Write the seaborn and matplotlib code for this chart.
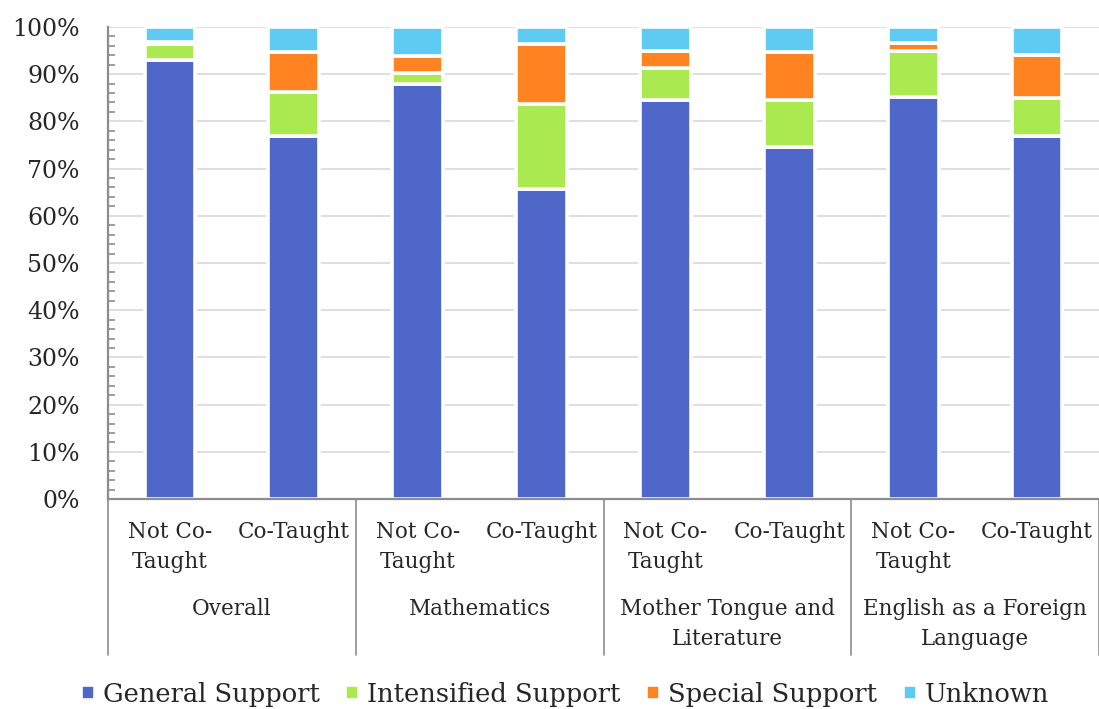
import numpy as np
import pandas as pd
import matplotlib
matplotlib.use("Agg")
import matplotlib.pyplot as plt
from matplotlib.ticker import MultipleLocator, PercentFormatter
import seaborn as sns

# data (percent of students)
groups = ["Overall", "Mathematics", "Mother Tongue and\nLiterature", "English as a Foreign\nLanguage"]
teaching = ["Not Co-\nTaught", "Co-Taught"]
series = ["General Support", "Intensified Support", "Special Support", "Unknown"]
colors = ["#4f67c9", "#aaea50", "#ff8320", "#5fcbf3"]

general = [93.0, 77.0, 87.9, 65.7, 84.5, 74.6, 85.2, 77.0]
intensified = [3.3, 9.3, 2.4, 18.0, 6.7, 9.9, 9.7, 7.9]
special = [0.5, 8.4, 3.6, 12.6, 3.8, 10.1, 1.6, 9.2]
unknown = [3.2, 5.3, 6.1, 3.7, 5.0, 5.4, 3.5, 5.9]

bar_ids = [f"{g}|{t}" for g in groups for t in teaching]
df = pd.DataFrame({"bar": bar_ids, "General Support": general,
                   "Intensified Support": intensified,
                   "Special Support": special, "Unknown": unknown})

sns.set_style("white")
plt.rcParams["font.family"] = ["DejaVu Serif"]

fig = plt.figure(figsize=(10.99, 7.09), dpi=100)
ax = fig.add_axes([0.0983, 0.296, 0.9017, 0.666])

bottom = np.zeros(len(df))
for name, col in zip(series, colors):
    sns.barplot(data=df, x="bar", y=name, order=bar_ids, color=col,
                bottom=bottom, width=0.41, edgecolor="white", linewidth=2.6,
                saturation=1, ax=ax, label=name, zorder=3)
    bottom = bottom + df[name].to_numpy()
ax.legend_.remove()
for p in ax.patches:
    p.set_clip_on(False)

ax.set_xlim(-0.5, len(bar_ids) - 0.5)
ax.set_ylim(0, 100)
ax.yaxis.set_major_locator(MultipleLocator(10))
ax.yaxis.set_minor_locator(MultipleLocator(2))
ax.yaxis.set_major_formatter(PercentFormatter(decimals=0))
ax.grid(axis="y", color="#d9d9d9", linewidth=1.2, zorder=0)
ax.set_axisbelow(True)
ax.set_ylabel("")
ax.set_xlabel("")

for s in ["top", "right"]:
    ax.spines[s].set_visible(False)
for s in ["left", "bottom"]:
    ax.spines[s].set_color("#8c8c8c")
    ax.spines[s].set_linewidth(1.6)
    ax.spines[s].set_zorder(5)

ax.tick_params(axis="y", which="major", direction="inout", length=13, width=1.5,
               color="#8c8c8c", labelsize=17, pad=14)
ax.tick_params(axis="y", which="minor", direction="in", length=5, width=1.2,
               color="#8c8c8c", left=True)
ax.tick_params(axis="x", length=0, labelsize=15.5, pad=16)
ax.set_xticks(range(len(bar_ids)))
ax.set_xticklabels([t for g in groups for t in teaching], linespacing=1.45)

# group labels and separators below the axis
trans = ax.get_xaxis_transform()
for i, g in enumerate(groups):
    ax.text(2 * i + 0.5, -0.21, g, transform=trans, ha="center", va="top",
            fontsize=15.5, linespacing=1.45)
for i in range(len(groups) + 1):
    ax.plot([2 * i - 0.5, 2 * i - 0.5], [0, -0.33], transform=trans,
            color="#8c8c8c", linewidth=1.2, clip_on=False)

handles, labels = ax.get_legend_handles_labels()
fig.legend(handles, labels, loc="center", bbox_to_anchor=(0.514, 0.021),
           ncol=4, frameon=False, fontsize=18.5, handlelength=0.55,
           handleheight=0.55, handletextpad=0.3, columnspacing=1.0)

fig.savefig("out.png", dpi=100)
